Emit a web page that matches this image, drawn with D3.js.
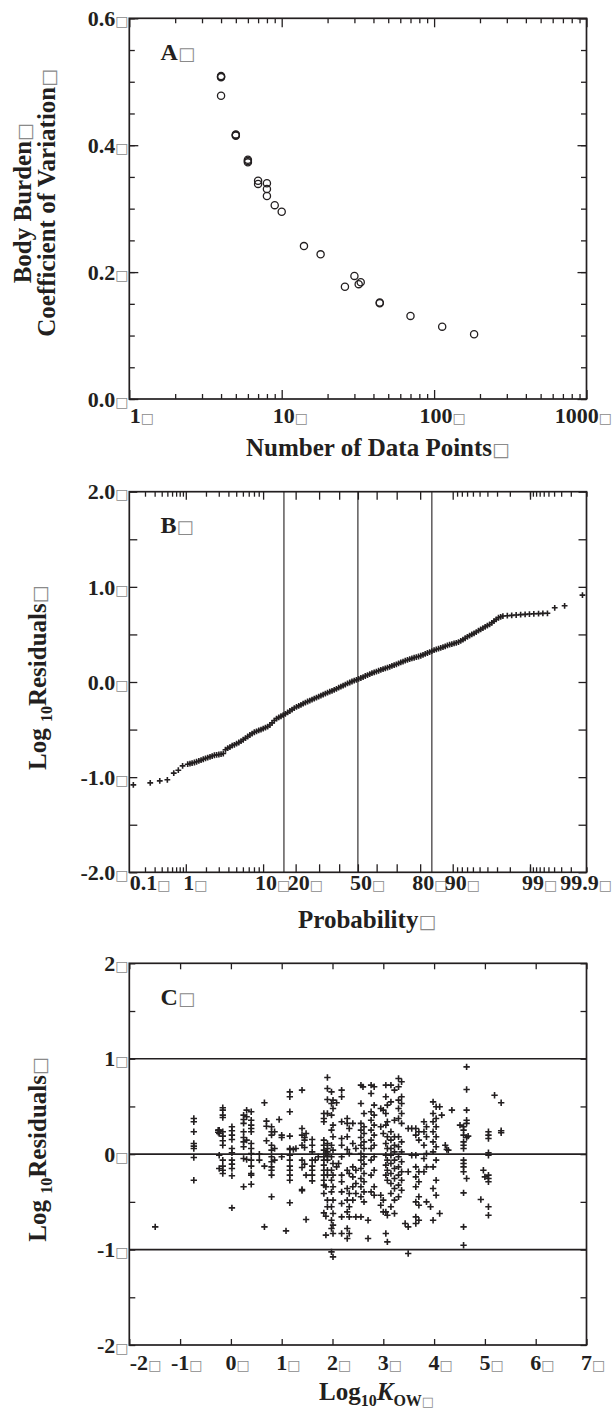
<!DOCTYPE html>
<html><head><meta charset="utf-8">
<script src="https://cdn.jsdelivr.net/npm/d3@7"></script>
<style>
body{margin:0;background:#fff}
svg{display:block}
text{font-family:"Liberation Serif","Times New Roman",serif;font-weight:bold;fill:#231f20}
.tofu{font-family:"DejaVu Sans",sans-serif;font-weight:normal;fill:#8a8a8a}
</style>
</head><body>
<svg id="c" width="613" height="1412"></svg>
<script>
// ---------- Panel A data ----------
const aPoints = [4,4,4,4,5,5,5,6,6,6,7,7,8,8,8,9,10,14,18,26,30,32,33,44,44,70,113,183];
const aCV = [0.507,0.508,0.509,0.478,0.415,0.416,0.417,0.373,0.375,0.377,0.344,0.339,0.340,0.331,0.320,0.3055,0.295,0.241,0.228,0.177,0.194,0.181,0.184,0.152,0.151,0.131,0.114,0.102];
const aXTicks = ["1","10","100","1000"];
const aYTicks = ["0.0","0.2","0.4","0.6"];

// ---------- Panel B data (probability %, log10 residual) ----------
const bProb = [0.12,0.25,0.37,0.50,0.64,0.76,0.89,
 1.07,1.25,1.46,1.70,1.97,2.28,2.62,3.01,3.44,3.92,4.46,5.05,5.71,6.43,7.21,8.08,9.01,10.03,11.12,12.30,13.57,14.92,16.35,17.88,19.49,21.19,22.96,24.83,26.76,28.77,30.85,33.00,35.20,37.45,39.74,42.07,44.43,46.81,49.20,51.60,53.98,56.36,58.71,61.03,63.31,65.54,67.72,69.85,71.90,73.89,75.80,77.64,79.39,81.06,82.64,84.13,85.54,86.86,88.10,89.25,90.32,91.31,92.22,93.06,93.82,94.52,95.15,95.73,96.25,96.71,97.13,97.50,
 97.83,98.12,98.38,98.61,98.81,98.98,99.13,99.27,99.38,99.48,99.61,99.74,99.88,
 1.160,1.355,1.578,1.831,2.118,2.442,2.807,3.216,3.673,4.182,4.746,5.370,6.057,6.811,7.636,8.534,9.510,10.565,11.702,12.924,14.231,15.625,17.106,18.673,20.327,22.065,23.885,25.785,27.760,29.806,31.918,34.090,36.317,38.591,40.905,43.251,45.620,48.006,50.399,52.790,55.172,57.535,59.871,62.172,64.431,66.640,68.793,70.884,72.907,74.857,76.730,78.524,80.234,81.859,83.398,84.849,86.214,87.493,88.686,89.796,90.824,91.774,92.647,93.448,94.179,94.845,95.449,95.994,96.485,96.926,97.320];
const bResid = [-1.081,-1.060,-1.039,-1.028,-0.958,-0.927,-0.881,
 -0.864,-0.852,-0.838,-0.822,-0.803,-0.786,-0.770,-0.762,-0.752,-0.695,-0.668,-0.648,-0.622,-0.590,-0.557,-0.528,-0.508,-0.490,-0.468,-0.430,-0.385,-0.360,-0.335,-0.305,-0.274,-0.251,-0.228,-0.205,-0.185,-0.164,-0.143,-0.122,-0.102,-0.083,-0.060,-0.038,-0.015,0.005,0.022,0.042,0.063,0.083,0.102,0.118,0.135,0.152,0.169,0.186,0.206,0.224,0.240,0.255,0.268,0.285,0.305,0.325,0.342,0.358,0.375,0.392,0.405,0.420,0.445,0.475,0.500,0.525,0.553,0.580,0.605,0.640,0.675,0.693,
 0.697,0.700,0.704,0.708,0.711,0.714,0.717,0.719,0.721,0.722,0.780,0.801,0.913,
 -0.858,-0.846,-0.830,-0.812,-0.794,-0.778,-0.766,-0.759,-0.712,-0.684,-0.660,-0.636,-0.607,-0.573,-0.542,-0.518,-0.500,-0.480,-0.452,-0.405,-0.372,-0.348,-0.320,-0.290,-0.262,-0.240,-0.216,-0.195,-0.175,-0.153,-0.132,-0.112,-0.093,-0.072,-0.049,-0.027,-0.005,0.014,0.032,0.052,0.073,0.093,0.110,0.127,0.143,0.160,0.178,0.196,0.215,0.232,0.248,0.262,0.276,0.295,0.315,0.334,0.350,0.366,0.384,0.398,0.412,0.432,0.460,0.488,0.512,0.539,0.567,0.592,0.622,0.658,0.685];
const bXTicks = ["0.1","1","10","20","50","80","90","99","99.9"];
const bYTicks = ["-2.0","-1.0","0.0","1.0","2.0"];
const bRefProb = [15.87,50,84.13];

// ---------- Panel C data (columns of log10 Kow with their residuals) ----------
const cKow = [-1.49,-0.73,-0.16,-0.23,-0.25,0.02,0.25,0.31,0.40,0.56,0.66,0.70,
 0.80,0.86,0.95,1.00,1.085,1.16,1.23,1.28,1.40,1.45,1.48,1.60,1.66,1.72,
 1.83,1.87,1.90,1.98,2.01,2.08,2.12,2.18,2.29,2.33,2.40,2.46,2.56,2.62,
 2.60,2.70,2.76,2.82,2.95,3.00,3.05,3.08,3.15,3.22,3.30,3.36,3.43,3.49,3.56,3.64,3.70,3.80,3.85,3.93,3.98,4.04,4.11,4.15,4.22,4.28,
 4.35,4.25,4.51,4.58,4.64,4.67,4.92,4.97,5.00,5.07,5.19,5.32];
const cRes = [
 [-0.762],
 [0.374,0.339,0.234,0.112,0.084,0.059,-0.035,-0.273],
 [0.486,0.461,0.409,0.384,0.234,0.189,0.140,0.094,-0.063,-0.126,-0.168,-0.203],
 [0.252,0.217,-0.011,-0.150],
 [0.252,0.230],
 [0.287,0.245,0.199,0.154,0.059,0.014,-0.063,-0.105,-0.150,-0.227,-0.563],
 [0.409,0.363,0.322,0.234,0.175,0.129,0.077,-0.045,-0.342],
 [0.461,0.392,0.147,-0.056],
 [0.444,0.356,0.304,0.269,0.234,0.112,0.059,0.007,-0.063,-0.126,-0.203,-0.220,-0.315],
 [0.0,-0.063],
 [0.538,-0.126,-0.762],
 [0.346,0.293,0.140],
 [0.287,0.234,0.199,0.094,0.042,-0.028,-0.080,-0.133,-0.168,-0.220,-0.447],
 [0.234,0.059,-0.063],
 [0.363],
 [0.199,0.175,-0.028],
 [-0.804],
 [0.653,0.601,0.444,0.189,0.059,0.049,-0.011,-0.063,-0.126,-0.168,-0.220,-0.273,-0.510],
 [0.049],
 [0.059],
 [0.671,0.269,0.199,0.094,-0.063,-0.140,-0.370,-0.382],
 [0.175,0.147,0.070,-0.105],
 [0.217,-0.220,-0.685],
 [0.154,0.094,0.024,-0.063,-0.126,-0.168,-0.220,-0.280],
 [-0.063],
 [-0.028],
 [0.426,0.374,0.339,0.147,0.094,0.042,-0.028,-0.063,-0.115,-0.168,-0.220,-0.273,-0.325,-0.412,-0.615],
 [0.007,-0.342,-0.650,-0.849],
 [0.804,0.688,0.573,0.426,0.112,0.059,0.024,-0.021,-0.063,-0.168,-0.220,-0.482,-0.552],
 [0.653,0.531,0.409,0.252,0.094,-0.028,-0.168,-0.273,-0.395,-0.552,-0.692,-0.779,-1.024],
 [0.566,0.479,0.304,0.182,0.042,-0.098,-0.220,-0.342,-0.482,-0.622,-0.744,-0.832,-1.076],
 [0.538,-0.133],
 [-0.098],
 [0.671,0.601,0.339,0.164,0.094,-0.028,-0.220,-0.290,-0.395,-0.517,-0.657,-0.832],
 [0.374,0.322,0.182,0.049,-0.168,-0.360,-0.482,-0.605,-0.779,-0.884],
 [0.269,0.007,-0.203,-0.412,-0.552,-0.657,-0.832],
 [0.322,0.112,-0.133,-0.238,-0.342,-0.482],
 [0.059,-0.168,-0.308,-0.412,-0.657],
 [0.723,0.531,0.322,0.252,0.175,0.094,0.007,-0.063,-0.150,-0.255,-0.342,-0.447,-0.657],
 [0.426,0.287,0.217,0.129,0.059,-0.028,-0.105,-0.203,-0.290,-0.395,-0.500],
 [0.705],
 [-0.692,-0.884],
 [0.723,0.636,0.444,0.356,0.252,0.147,0.059,-0.063,-0.220,-0.395],
 [0.706,0.514,0.409,0.304,0.199,0.094,-0.028,-0.168,-0.342,-0.430],
 [0.479,0.287,-0.430,-0.535],
 [0.461,0.217,-0.482,-0.605],
 [0.723,0.601,0.426,0.304,0.112,-0.011,-0.115,-0.220,-0.605,-0.832],
 [0.514,0.339,0.182,0.059,-0.063,-0.168,-0.273,-0.640,-0.919],
 [0.723,0.548,0.234,0.147,0.059,-0.011,-0.098,-0.203,-0.308,-0.412,-0.552],
 [0.671,0.356,0.182,0.094,0.024,-0.063,-0.150,-0.255,-0.360,-0.482,-0.622],
 [0.793,0.706,0.566,0.479,0.374,0.182,0.077,-0.028,-0.133,-0.220,-0.325,-0.447],
 [0.758,0.601,0.531,0.426,0.322,0.129,0.024,-0.080,-0.185,-0.273,-0.378],
 [-0.727],
 [0.269,-0.185,-0.762,-1.041],
 [-0.011,0.269],
 [0.269,0.199,-0.011,-0.133,-0.238,-0.342,-0.500,-0.657,-0.727],
 [0.234,0.147,-0.185,-0.290,-0.447,-0.535,-0.692],
 [0.339,0.234,0.094,-0.045,-0.185],
 [0.287,0.182,0.007,-0.133,-0.500],
 [-0.552],
 [0.548,0.426,0.339,0.234,0.129,0.024,-0.133,-0.360,-0.692],
 [0.496,0.374,0.287,0.182,0.077,-0.063,-0.273,-0.430],
 [0.496,-0.622],
 [0.409],
 [0.094],
 [0.042],
 [0.461],
 [0.049],
 [0.304],
 [0.287,0.252,0.199,0.129,0.094,0.059,-0.063,-0.098,-0.133,-0.185,-0.406,-0.762,-0.954],
 [0.915,0.678,0.461,0.356,0.322,0.175,-0.255],
 [0.189],
 [-0.475],
 [-0.168],
 [-0.238],
 [0.234,0.199,0.164,0.014,-0.011,-0.220,-0.255,-0.290,-0.552,-0.640],
 [0.618],
 [0.538,0.245,0.224]
];
const cXTicks = ["-2","-1","0","1","2","3","4","5","6","7"];
const cYTicks = ["-2","-1","0","1","2"];
const cRefLines = [-1,0,1];

// ---------- helpers ----------
const INK = "#231f20";
const svg = d3.select("#c");
const L = 129.3, R = 586.5, W = 613;

function probit(p){
 const a=[-3.969683028665376e+01,2.209460984245205e+02,-2.759285104469687e+02,1.383577518672690e+02,-3.066479806614716e+01,2.506628277459239e+00];
 const b=[-5.447609879822406e+01,1.615858368580409e+02,-1.556989798598866e+02,6.680131188771972e+01,-1.328068155288572e+01];
 const c=[-7.784894002430293e-03,-3.223964580411365e-01,-2.400758277161838e+00,-2.549732539343734e+00,4.374664141464968e+00,2.938163982698783e+00];
 const d=[7.784695709041462e-03,3.224671290700398e-01,2.445134137142996e+00,3.754408661907416e+00];
 const pl=0.02425; let q,r;
 if(p<pl){q=Math.sqrt(-2*Math.log(p));return (((((c[0]*q+c[1])*q+c[2])*q+c[3])*q+c[4])*q+c[5])/((((d[0]*q+d[1])*q+d[2])*q+d[3])*q+1);}
 if(p<=1-pl){q=p-0.5;r=q*q;return (((((a[0]*r+a[1])*r+a[2])*r+a[3])*r+a[4])*r+a[5])*q/(((((b[0]*r+b[1])*r+b[2])*r+b[3])*r+b[4])*r+1);}
 q=Math.sqrt(-2*Math.log(1-p));return -(((((c[0]*q+c[1])*q+c[2])*q+c[3])*q+c[4])*q+c[5])/((((d[0]*q+d[1])*q+d[2])*q+d[3])*q+1);
}

function tickSet(g, axisFn, scale, values, size, tr){
  g.append("g").attr("transform", tr)
   .call(axisFn(scale).tickValues(values).tickSize(-size).tickSizeOuter(0).tickFormat(""))
   .call(s=>s.select(".domain").remove())
   .call(s=>s.selectAll("line").attr("stroke",INK).attr("stroke-width",1.3));
}
function frame(g, top, bottom){
  g.append("rect").attr("x",L).attr("y",top).attr("width",R-L).attr("height",bottom-top)
   .attr("fill","none").attr("stroke",INK).attr("stroke-width",1.7);
}
function xLabel(g, x, y, txt, shift){
  const t = g.append("text").attr("y", y).attr("font-size", 22);
  const n = t.append("tspan").text(txt);
  t.append("tspan").attr("class","tofu").attr("font-size",14).text("□");
  const w = n.node().getComputedTextLength();
  const total = t.node().getComputedTextLength();
  let x0 = x - w/2 + (shift||0);
  if (x0 < L + 0.5) x0 = L + 0.5;               // keep clear of the y labels
  if (x0 + total > W - 1) x0 = W - 1 - total;   // keep inside the page
  t.attr("x", x0);
}
function yLabel(g, y, txt){
  const t = g.append("text").attr("x", 128.5).attr("y", y).attr("dy","0.35em")
    .attr("font-size",22).attr("text-anchor","end");
  t.append("tspan").text(txt);
  t.append("tspan").attr("class","tofu").attr("font-size",14).text("□");
}
function panelLetter(g, y, txt){
  const t = g.append("text").attr("x",160.6).attr("y",y).attr("font-size",24);
  t.append("tspan").text(txt);
  t.append("tspan").attr("class","tofu").attr("font-size",18).text("□");
}
function plus(sel, s, sw){
  sel.append("path").attr("d",`M${-s},0H${s}M0,${-s}V${s}`).attr("stroke",INK).attr("stroke-width",sw).attr("fill","none");
}

// ================= Panel A =================
{
  const top=18.3, bottom=399;
  const g = svg.append("g");
  const x = d3.scaleLog().domain([1,1000]).range([L,R]);
  const y = d3.scaleLinear().domain([0,0.6]).range([bottom,top]);
  const dec = aXTicks.map(Number);
  const minor = [];
  for (let d=1; d<1000; d*=10) for (let k=2;k<=9;k++) minor.push(d*k);
  tickSet(g, d3.axisBottom, x, minor, 5, `translate(0,${bottom})`);
  tickSet(g, d3.axisTop, x, minor, 5, `translate(0,${top})`);
  tickSet(g, d3.axisBottom, x, dec, 9, `translate(0,${bottom})`);
  tickSet(g, d3.axisTop, x, dec, 9, `translate(0,${top})`);
  const yMinor = d3.range(0,13).map(i=>i*0.05);
  const yMajor = aYTicks.map(Number);
  tickSet(g, d3.axisLeft, y, yMinor, 5.5, `translate(${L},0)`);
  tickSet(g, d3.axisRight, y, yMinor, 5.5, `translate(${R},0)`);
  tickSet(g, d3.axisLeft, y, yMajor, 9, `translate(${L},0)`);
  tickSet(g, d3.axisRight, y, yMajor, 9, `translate(${R},0)`);
  frame(g, top, bottom);
  g.selectAll("circle.pt").data(aPoints.map((n,i)=>[n,aCV[i]])).join("circle")
    .attr("class","pt").attr("cx",d=>x(d[0])).attr("cy",d=>y(d[1])).attr("r",3.6)
    .attr("fill","none").attr("stroke",INK).attr("stroke-width",1.3);
  aXTicks.forEach(t=>xLabel(g, x(+t), 423, t, 2));
  aYTicks.forEach(t=>yLabel(g, y(+t), t));
  panelLetter(g, 60, "A");
  const t1 = g.append("text").attr("transform","translate(30.6,283.3) rotate(-90)").attr("font-size",25);
  t1.append("tspan").text("Body Burden"); t1.append("tspan").attr("class","tofu").attr("font-size",19).text("□");
  const t2 = g.append("text").attr("transform","translate(55.3,336.7) rotate(-90)").attr("font-size",25);
  t2.append("tspan").text("Coefficient of Variation"); t2.append("tspan").attr("class","tofu").attr("font-size",19).text("□");
  const tx = g.append("text").attr("x",246).attr("y",456).attr("font-size",25);
  tx.append("tspan").text("Number of Data Points"); tx.append("tspan").attr("class","tofu").attr("font-size",19).text("□");
}

// ================= Panel B =================
{
  const top=491.7, bottom=872.3;
  const g = svg.append("g");
  const z = d3.scaleLinear().domain([probit(0.001), probit(0.999)]).range([L,R]);
  const xp = p => z(probit(p/100));
  const y = d3.scaleLinear().domain([-2,2]).range([bottom,top]);
  const longP = [1,10,20,30,40,50,60,70,80,90,99];
  const shortP = [];
  for (let k=2;k<=9;k++){ shortP.push(k/10); shortP.push(k); shortP.push(90+k); shortP.push(99+k/10); }
  shortP.push(91); shortP.push(99.1);
  const zs = a => a.map(p=>probit(p/100));
  tickSet(g, d3.axisBottom, z, zs(shortP), 5, `translate(0,${bottom})`);
  tickSet(g, d3.axisTop, z, zs(shortP), 5, `translate(0,${top})`);
  tickSet(g, d3.axisBottom, z, zs(longP), 8, `translate(0,${bottom})`);
  tickSet(g, d3.axisTop, z, zs(longP), 8, `translate(0,${top})`);
  const yv = d3.range(-4,5).map(i=>i*0.5);
  tickSet(g, d3.axisLeft, y, yv, 8, `translate(${L},0)`);
  tickSet(g, d3.axisRight, y, yv, 8, `translate(${R},0)`);
  g.selectAll("line.ref").data(bRefProb).join("line").attr("class","ref")
    .attr("x1",d=>xp(d)).attr("x2",d=>xp(d)).attr("y1",top).attr("y2",bottom)
    .attr("stroke",INK).attr("stroke-width",1.1);
  frame(g, top, bottom);
  g.selectAll("g.pt").data(bProb.map((p,i)=>[p,bResid[i]])).join("g").attr("class","pt")
    .attr("transform",d=>`translate(${xp(d[0])},${y(d[1])})`).call(s=>plus(s,2.9,1.6));
  bXTicks.forEach(t=>xLabel(g, xp(+t), 890, t, 3));
  bYTicks.forEach(t=>yLabel(g, y(+t), t));
  panelLetter(g, 533, "B");
  const ty = g.append("text").attr("transform","translate(45.5,770) rotate(-90)").attr("font-size",25);
  ty.append("tspan").text("Log ");
  ty.append("tspan").attr("font-size",16).attr("dy",6).text("10");
  ty.append("tspan").attr("dy",-6).text("Residuals");
  ty.append("tspan").attr("class","tofu").attr("font-size",19).text("□");
  const tx = g.append("text").attr("x",298).attr("y",928).attr("font-size",25);
  tx.append("tspan").text("Probability"); tx.append("tspan").attr("class","tofu").attr("font-size",19).text("□");
}

// ================= Panel C =================
{
  const top=963.3, bottom=1345;
  const g = svg.append("g");
  const x = d3.scaleLinear().domain([-2,7]).range([L,R]);
  const y = d3.scaleLinear().domain([-2,2]).range([bottom,top]);
  const xv = cXTicks.map(Number);
  tickSet(g, d3.axisBottom, x, xv, 6, `translate(0,${bottom})`);
  tickSet(g, d3.axisTop, x, xv, 6, `translate(0,${top})`);
  const yv = d3.range(-4,5).map(i=>i*0.5);
  tickSet(g, d3.axisLeft, y, yv, 6, `translate(${L},0)`);
  tickSet(g, d3.axisRight, y, yv, 6, `translate(${R},0)`);
  g.selectAll("line.ref").data(cRefLines).join("line").attr("class","ref")
    .attr("x1",L).attr("x2",R).attr("y1",d=>y(d)).attr("y2",d=>y(d))
    .attr("stroke",INK).attr("stroke-width",1.6);
  frame(g, top, bottom);
  const pts = [];
  cKow.forEach((k,i)=>cRes[i].forEach(r=>pts.push([k,r])));
  g.selectAll("g.pt").data(pts).join("g").attr("class","pt")
    .attr("transform",d=>`translate(${x(d[0])},${y(d[1])})`).call(s=>plus(s,3.2,1.6));
  cXTicks.forEach(t=>xLabel(g, x(+t), 1370, t, 0));
  cYTicks.forEach(t=>yLabel(g, y(+t), t));
  panelLetter(g, 1005, "C");
  const ty = g.append("text").attr("transform","translate(45.5,1241.7) rotate(-90)").attr("font-size",25);
  ty.append("tspan").text("Log ");
  ty.append("tspan").attr("font-size",16).attr("dy",6).text("10");
  ty.append("tspan").attr("dy",-6).text("Residuals");
  ty.append("tspan").attr("class","tofu").attr("font-size",19).text("□");
  const tx = g.append("text").attr("x",319).attr("y",1400).attr("font-size",25);
  tx.append("tspan").text("Log");
  tx.append("tspan").attr("font-size",16).attr("dy",6).text("10");
  tx.append("tspan").attr("dy",-6).attr("font-style","italic").text("K");
  tx.append("tspan").attr("font-size",16).attr("dy",6).text("OW");
  tx.append("tspan").attr("class","tofu").attr("font-size",13).text("□");
}
</script>
</body></html>
